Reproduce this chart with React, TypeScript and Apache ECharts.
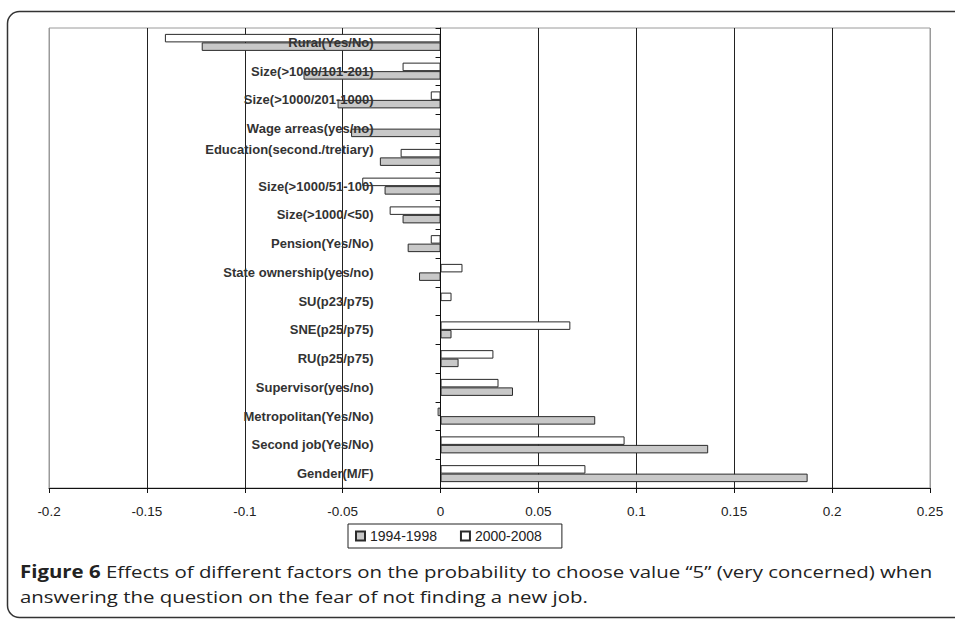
import React, { useEffect, useRef } from "react";
import * as echarts from "echarts";

const categories = [
  "Rural(Yes/No)",
  "Size(>1000/101-201)",
  "Size(>1000/201-1000)",
  "Wage arreas(yes/no)",
  "Education(second./tretiary)",
  "Size(>1000/51-100)",
  "Size(>1000/<50)",
  "Pension(Yes/No)",
  "State ownership(yes/no)",
  "SU(p23/p75)",
  "SNE(p25/p75)",
  "RU(p25/p75)",
  "Supervisor(yes/no)",
  "Metropolitan(Yes/No)",
  "Second job(Yes/No)",
  "Gender(M/F)",
];

const period1994 = [
  -0.122, -0.07, -0.0526, -0.0457, -0.031, -0.0286, -0.0194, -0.0168, -0.011,
  null, 0.0056, 0.0092, 0.037, 0.079, 0.1367, 0.1875,
];

const period2000 = [
  -0.1408, -0.0194, -0.005, null, -0.0204, -0.04, -0.026, -0.005, 0.0112,
  0.0056, 0.0663, 0.027, 0.0296, -0.0015, 0.094, 0.074,
];

const seriesNames = ["1994-1998", "2000-2008"];
const xMin = -0.2;
const xMax = 0.25;
const xStep = 0.05;

const captionBold = "Figure 6";
const captionLine1 = " Effects of different factors on the probability to choose value \u201c5\u201d (very concerned) when";
const captionLine2 = "answering the question on the fear of not finding a new job.";

const GRID_LEFT = 49;
const GRID_RIGHT = 25;
const CHART_W = 955;

export default function App() {
  const ref = useRef<HTMLDivElement>(null);

  useEffect(() => {
    if (!ref.current) return;
    const chart = echarts.init(ref.current, null, { renderer: "svg" });

    const splitColors: string[] = [];
    const nTicks = Math.round((xMax - xMin) / xStep) + 1;
    for (let i = 0; i < nTicks; i++) {
      splitColors.push(i === 0 || i === nTicks - 1 ? "#9a9a9a" : "#222");
    }

    const plotW = CHART_W - GRID_LEFT - GRID_RIGHT;
    const zeroOffset = ((0 - xMin) / (xMax - xMin)) * plotW;

    const labelFont = {
      fontSize: 13,
      fontWeight: "bold",
      color: "#333",
      fontFamily: "Liberation Sans",
    };

    chart.setOption({
      animation: false,
      backgroundColor: "#fff",
      grid: {
        left: GRID_LEFT,
        right: GRID_RIGHT,
        top: 28,
        bottom: 132,
        show: true,
        borderColor: "#9a9a9a",
        borderWidth: 1,
        containLabel: false,
        outerBoundsMode: "none",
      },
      legend: {
        left: 348,
        top: 524,
        orient: "horizontal",
        data: seriesNames,
        icon: "rect",
        itemWidth: 9,
        itemHeight: 9,
        itemGap: 23,
        borderColor: "#222",
        borderWidth: 1,
        padding: [5, 20, 5, 7],
        textStyle: { fontSize: 14, color: "#222", fontFamily: "Liberation Sans" },
      },
      xAxis: {
        type: "value",
        min: xMin,
        max: xMax,
        interval: xStep,
        axisLine: { show: true, onZero: false, lineStyle: { color: "#111", width: 1 } },
        axisTick: { show: true, length: 5, lineStyle: { color: "#111" } },
        axisLabel: {
          margin: 16,
          fontSize: 13.5,
          color: "#222",
          fontFamily: "Liberation Sans",
        },
        splitLine: { show: true, lineStyle: { color: splitColors, width: 1 } },
      },
      yAxis: {
        type: "category",
        inverse: true,
        data: categories,
        z: 5,
        offset: -zeroOffset,
        axisLine: { show: true, onZero: false, lineStyle: { color: "#111", width: 1 } },
        axisTick: { show: true, length: 5, lineStyle: { color: "#111" } },
        axisLabel: {
          margin: 67,
          ...labelFont,
          interval: 0,
          formatter: (v: string) =>
            v.startsWith("Education") ? "{up|" + v + "}" : "{n|" + v + "}",
          rich: {
            up: { ...labelFont, padding: [0, 0, 16, 0] },
            n: { ...labelFont },
          },
        },
        splitLine: { show: false },
      },
      series: [
        {
          name: seriesNames[1],
          type: "bar",
          data: period2000,
          barWidth: 8.5,
          barGap: "0%",
          itemStyle: { color: "#ffffff", borderColor: "#2a2a2a", borderWidth: 1 },
        },
        {
          name: seriesNames[0],
          type: "bar",
          data: period1994,
          barWidth: 8.5,
          barGap: "0%",
          itemStyle: { color: "#c8c8c8", borderColor: "#2a2a2a", borderWidth: 1 },
        },
      ],
      graphic: [
        {
          type: "rect",
          shape: { x: 7.5, y: 11.5, width: 1000, height: 606, r: 12 },
          style: { fill: "none", stroke: "#333", lineWidth: 1.5 },
          silent: true,
        },
        {
          type: "text",
          x: 20,
          y: 563,
          scaleX: 1.2,
          style: {
            x: 0,
            y: 0,
            verticalAlign: "top",
            text: "{b|" + captionBold + "}{n|" + captionLine1 + "}",
            rich: {
              b: { fontWeight: "bold", fontSize: 17, fill: "#222", fontFamily: "Open Sans" },
              n: { fontSize: 17, fill: "#222", fontFamily: "Open Sans" },
            },
          },
        },
        {
          type: "text",
          x: 20,
          y: 588,
          scaleX: 1.2,
          style: {
            x: 0,
            y: 0,
            verticalAlign: "top",
            text: captionLine2,
            fontSize: 17,
            fill: "#222",
            fontFamily: "Open Sans",
          },
        },
      ],
    });

    return () => chart.dispose();
  }, []);

  return (
    <div
      ref={ref}
      style={{ position: "fixed", left: 0, top: 0, width: 955, height: 620 }}
    />
  );
}
